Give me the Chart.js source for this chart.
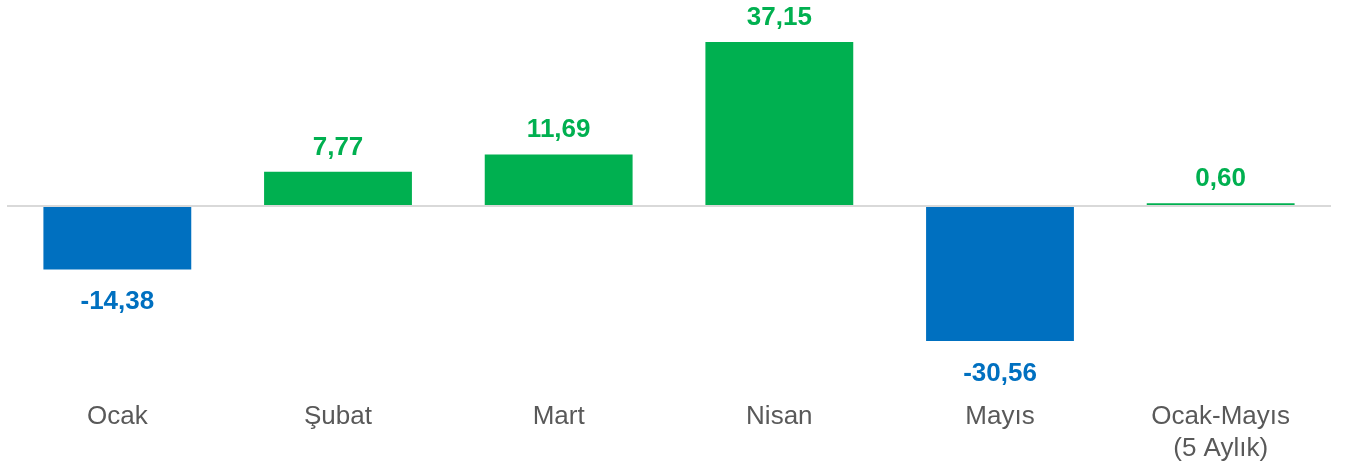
<!DOCTYPE html>
<html>
<head>
<meta charset="utf-8">
<script src="https://cdn.jsdelivr.net/npm/chart.js@4"></script>
<style>
  html, body { margin: 0; padding: 0; background: #ffffff; }
  #wrap { width: 1346px; height: 469px; position: relative; }
</style>
</head>
<body>
<div id="wrap"><canvas id="c" width="1346" height="469"></canvas></div>
<script>
const categories = ['Ocak', 'Şubat', 'Mart', 'Nisan', 'Mayıs', ['Ocak-Mayıs', '(5 Aylık)']];
const values = [-14.38, 7.77, 11.69, 37.15, -30.56, 0.60];

const GREEN = '#00B050';
const BLUE = '#0070C0';
const colorFor = v => (v >= 0 ? GREEN : BLUE);

const valueLabels = {
  id: 'valueLabels',
  afterDatasetsDraw(chart) {
    const ctx = chart.ctx;
    const meta = chart.getDatasetMeta(0);
    ctx.save();
    ctx.font = 'bold 26px "Liberation Sans", Arial, sans-serif';
    ctx.textAlign = 'center';
    ctx.textBaseline = 'alphabetic';
    meta.data.forEach((bar, i) => {
      const v = values[i];
      const txt = v.toFixed(2).replace('.', ',');
      ctx.fillStyle = colorFor(v);
      const y = v >= 0 ? bar.y - 17 : bar.y + 40;
      ctx.fillText(txt, bar.x, y);
    });
    ctx.restore();
  }
};

new Chart(document.getElementById('c'), {
  type: 'bar',
  data: {
    labels: categories,
    datasets: [{
      data: values,
      backgroundColor: values.map(colorFor),
      borderWidth: 0,
      barPercentage: 0.67,
      categoryPercentage: 1.0
    }]
  },
  options: {
    responsive: false,
    animation: false,
    devicePixelRatio: 1,
    layout: { padding: { top: 20.6, left: 7, right: 15, bottom: 0 } },
    plugins: { legend: { display: false }, tooltip: { enabled: false } },
    scales: {
      x: {
        grid: { display: false },
        border: { display: false },
        ticks: {
          color: '#595959',
          font: { family: '"Liberation Sans", Arial, sans-serif', size: 26, lineHeight: 1.23 },
          padding: 32,
          maxRotation: 0,
          autoSkip: false
        },
        afterFit(scale) { scale.height = 108.5; }
      },
      y: {
        min: -35,
        max: 42,
        ticks: { display: false },
        border: { display: false },
        grid: {
          drawTicks: false,
          color: ctx => (ctx.tick && ctx.tick.value === 0 ? '#d9d9d9' : 'rgba(0,0,0,0)'),
          lineWidth: 2
        },
        afterBuildTicks(scale) { scale.ticks = [{ value: 0 }]; }
      }
    }
  },
  plugins: [valueLabels]
});
</script>
</body>
</html>
